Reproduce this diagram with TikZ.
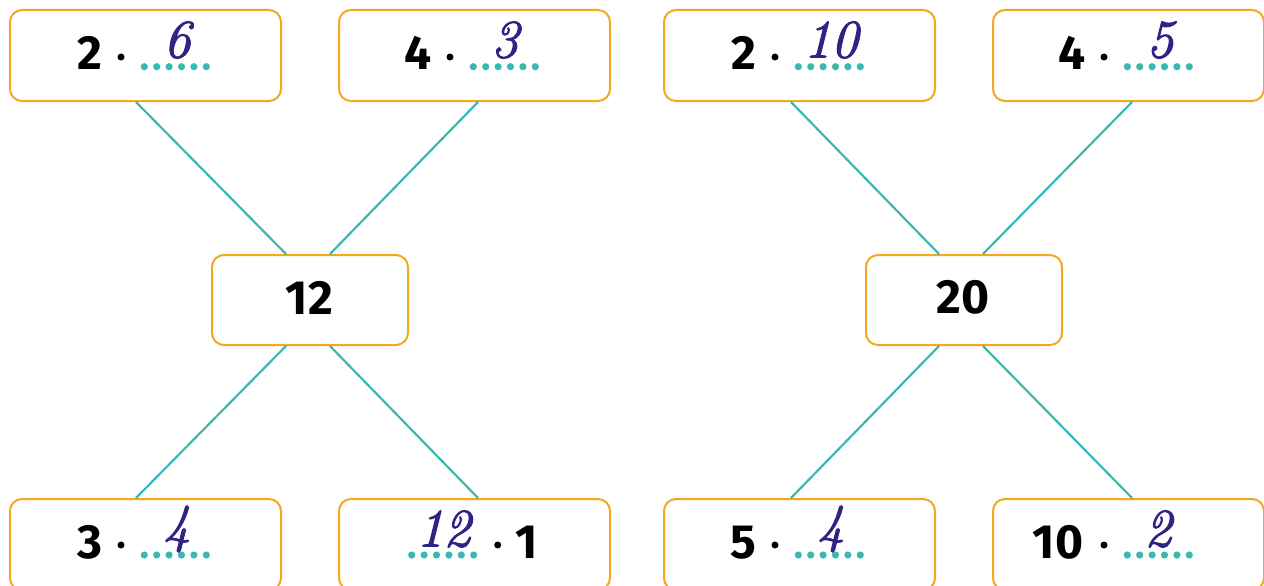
\documentclass[tikz,border=0pt]{standalone}
\usepackage{fontspec}
\newfontfamily\digitfont{Fira Sans}
\newfontfamily\handfont{Latin Modern Roman}[ItalicFeatures={FakeBold=2}]
\definecolor{cardorange}{HTML}{F4A81D}
\definecolor{linkteal}{HTML}{3BB8B2}
\definecolor{inkblue}{HTML}{2E2483}
% row of six dots for a blank to fill in
\newcommand{\dotrow}[2]{\foreach \k in {0,...,5} \fill[linkteal] ({#1+12.4*\k},#2) circle (3.6);}
\newcommand{\timesdot}[2]{\fill (#1,#2) circle (3.5);}
\tikzset{
  card/.style={draw=cardorange, line width=2pt, rounded corners=12pt, minimum width=271pt, minimum height=91pt, inner sep=0pt, anchor=north west},
  hub/.style={card, minimum width=196pt, minimum height=90pt},
  link/.style={draw=linkteal, line width=2.2pt},
  num/.style={font=\digitfont\bfseries\fontsize{48}{48}\selectfont, inner sep=0pt},
  hand/.style={text=inkblue, font=\handfont\itshape\fontsize{54}{54}\selectfont, inner sep=0pt}
}
\begin{document}
\begin{tikzpicture}[x=1pt, y=-1pt]
  \useasboundingbox (0,0) rectangle (1264,586);
  % left tree
  \node[card] (tl) at (9,9) {};
  \node[card] (tr) at (338,9) {};
  \node[hub] (hl) at (211,254) {};
  \node[card] (bl) at (9,498) {};
  \node[card] (br) at (338,498) {};
  \draw[link] ([xshift=-9.5pt]tl.south) -- ([xshift=-24pt]hl.north);
  \draw[link] ([xshift=3.5pt]tr.south) -- ([xshift=20pt]hl.north);
  \draw[link] ([xshift=-24pt]hl.south) -- ([xshift=-9.5pt]bl.north);
  \draw[link] ([xshift=20pt]hl.south) -- ([xshift=3.5pt]br.north);
  % right tree
  \node[card] (rtl) at (663,9) {};
  \node[card] (rtr) at (992,9) {};
  \node[hub] (hr) at (865,254) {};
  \node[card] (rbl) at (663,498) {};
  \node[card] (rbr) at (992,498) {};
  \draw[link] ([xshift=-8.5pt]rtl.south) -- ([xshift=-25pt]hr.north);
  \draw[link] ([xshift=3.5pt]rtr.south) -- ([xshift=19pt]hr.north);
  \draw[link] ([xshift=-25pt]hr.south) -- ([xshift=-8.5pt]rbl.north);
  \draw[link] ([xshift=19pt]hr.south) -- ([xshift=3.5pt]rbr.north);
  % hubs
  \node[num] (hlt) at (309.5,297.5) {12};
  \node[num] (hrt) at (963,297.5) {20};
  % top row
  \node[num] (tla) at (89.5,53) {2};  \timesdot{121}{57}  \dotrow{144.3}{66.7}
  \node[hand] (tlb) at (177,40) {6};
  \node[num] (tra) at (418.5,53) {4}; \timesdot{450}{57}  \dotrow{473.3}{66.7}
  \node[hand] (trb) at (505,40) {3};
  \node[num] (rtla) at (743.5,53) {2}; \timesdot{775}{57} \dotrow{798.3}{66.7}
  \node[hand] (rtlb) at (831,40) {10};
  \node[num] (rtra) at (1072.5,53) {4}; \timesdot{1104}{57} \dotrow{1127.3}{66.7}
  \node[hand] (rtrb) at (1160,40) {5};
  % bottom row
  \node[num] (bla) at (89.5,542.5) {3}; \timesdot{121}{545} \dotrow{144.3}{555}
  \node[hand] (blb) at (177,529) {4};
  \node[hand] (brb) at (443.5,529) {12}; \dotrow{411.7}{555}
  \timesdot{497.7}{545} \node[num] (bra) at (526.5,542.5) {1};
  \node[num] (rbla) at (743.5,542.5) {5}; \timesdot{775}{545} \dotrow{798.3}{555}
  \node[hand] (rblb) at (831,529) {4};
  \node[num] (rbra) at (1058,542.5) {10}; \timesdot{1104}{545} \dotrow{1127.3}{555}
  \node[hand] (rbrb) at (1158,529) {2};
\end{tikzpicture}
\end{document}
